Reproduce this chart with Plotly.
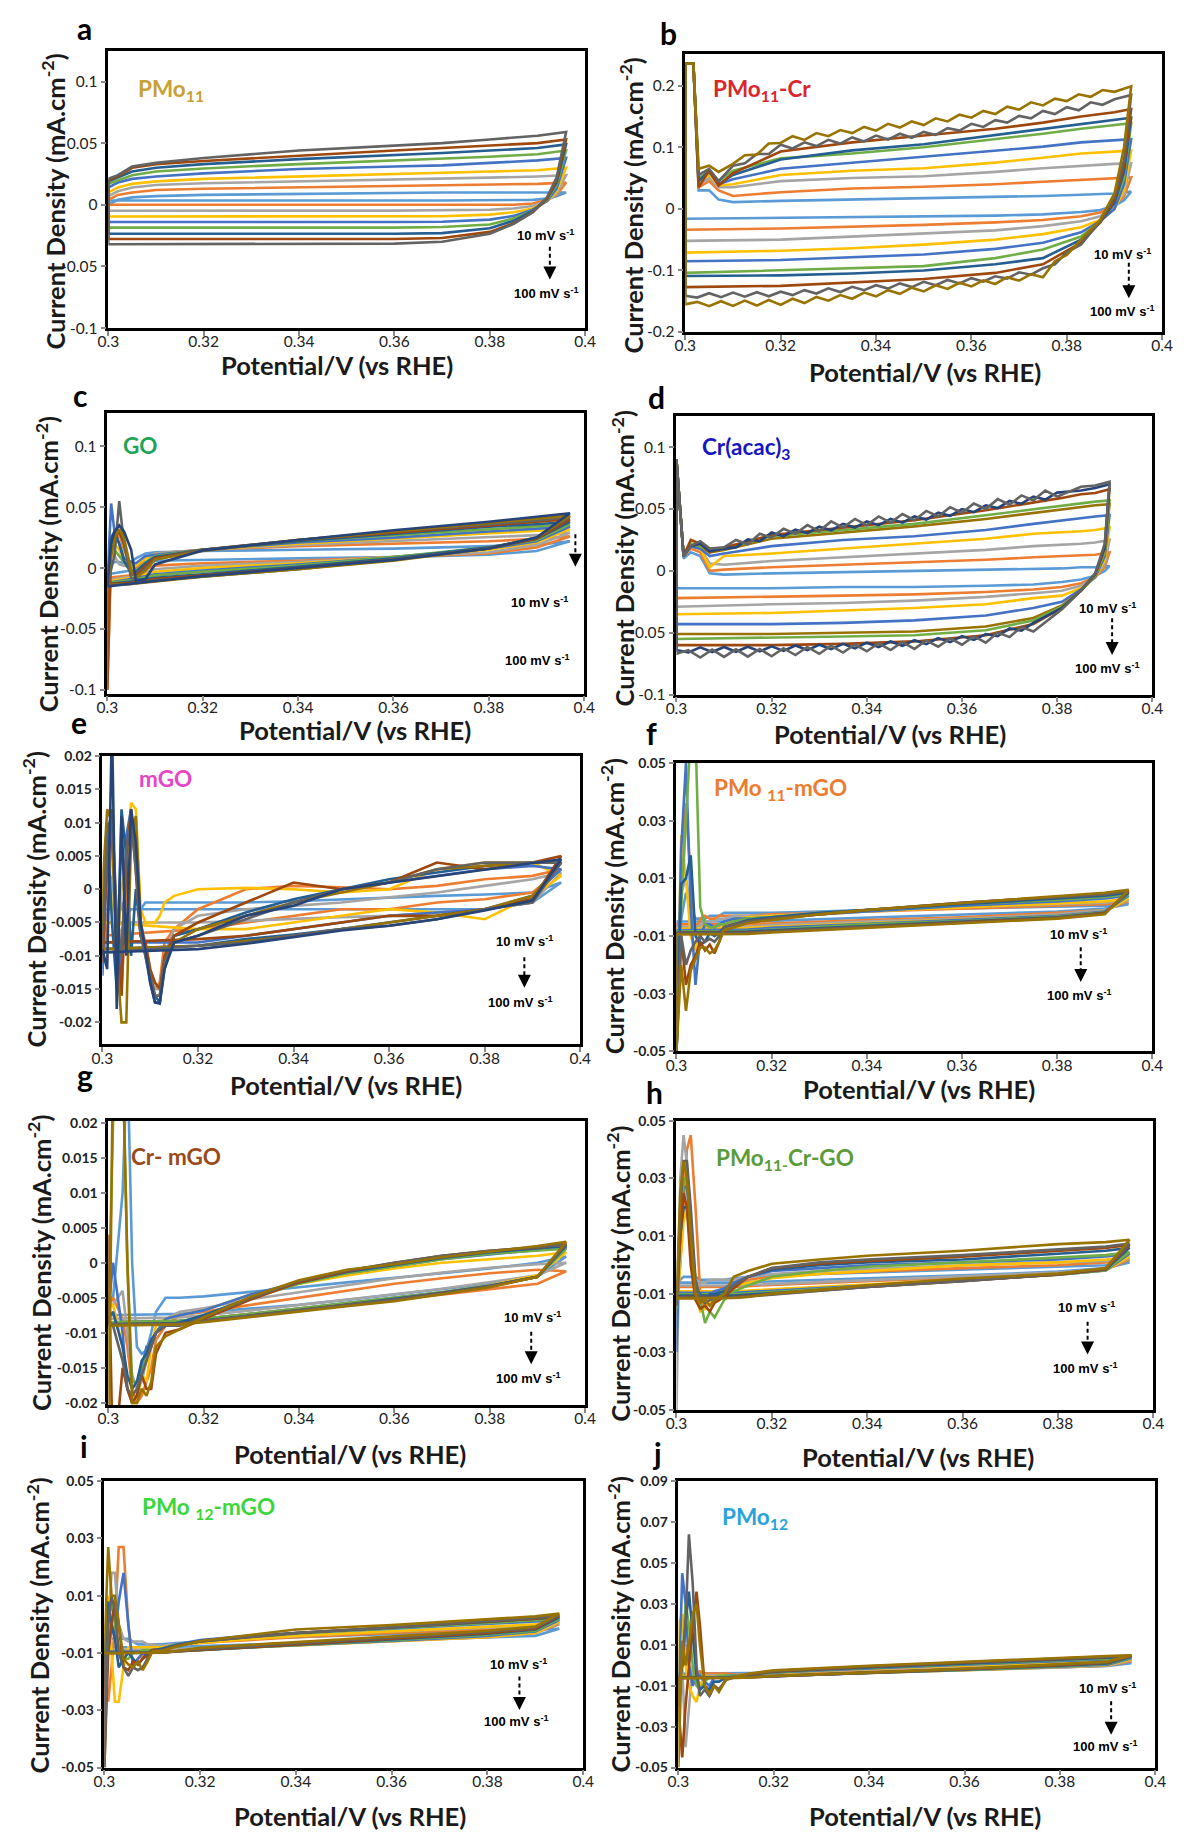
import plotly.graph_objects as go

# ------------------------------------------------------------------ data
X_TICKS = [0.3, 0.32, 0.34, 0.36, 0.38, 0.4]
X_TICK_TEXT = ['0.3', '0.32', '0.34', '0.36', '0.38', '0.4']
Y_TICKS_01 = [-0.1, -0.05, 0, 0.05, 0.1]
Y_TEXT_01 = ['-0.1', '-0.05', '0', '0.05', '0.1']
Y_TICKS_02 = [-0.2, -0.1, 0, 0.1, 0.2]
Y_TEXT_02 = ['-0.2', '-0.1', '0', '0.1', '0.2']
Y_TICKS_002 = [-0.02, -0.015, -0.01, -0.005, 0, 0.005, 0.01, 0.015, 0.02]
Y_TEXT_002 = ['-0.02', '-0.015', '-0.01', '-0.005', '0', '0.005', '0.01', '0.015', '0.02']
Y_TICKS_005 = [-0.05, -0.03, -0.01, 0.01, 0.03, 0.05]
Y_TEXT_005 = ['-0.05', '-0.03', '-0.01', '0.01', '0.03', '0.05']
Y_TICKS_009 = [-0.05, -0.03, -0.01, 0.01, 0.03, 0.05, 0.07, 0.09]
Y_TEXT_009 = ['-0.05', '-0.03', '-0.01', '0.01', '0.03', '0.05', '0.07', '0.09']

LB, OR, GR, YE, BL, GN = '#5B9BD5', '#ED7D31', '#A5A5A5', '#FFC000', '#4472C4', '#70AD47'
DB, BR, DG, OL, NV = '#255E91', '#9E480E', '#636363', '#997300', '#264478'

# ---- a : PMo11
A_EU = [0.3, 0.302, 0.305, 0.31, 0.32, 0.34, 0.36, 0.37, 0.38, 0.39, 0.396]
A_UP = [
    [0.000, 0.004, 0.006, 0.007, 0.008, 0.009, 0.0095, 0.010, 0.010, 0.010, 0.010],
    [0.004, 0.008, 0.010, 0.012, 0.013, 0.014, 0.015, 0.016, 0.016, 0.017, 0.018],
    [0.007, 0.011, 0.014, 0.016, 0.0175, 0.019, 0.020, 0.021, 0.022, 0.023, 0.024],
    [0.010, 0.014, 0.017, 0.019, 0.021, 0.023, 0.025, 0.026, 0.027, 0.028, 0.030],
    [0.014, 0.018, 0.021, 0.023, 0.0255, 0.029, 0.031, 0.032, 0.034, 0.036, 0.038],
    [0.017, 0.020, 0.024, 0.027, 0.0295, 0.033, 0.036, 0.037, 0.039, 0.041, 0.044],
    [0.019, 0.022, 0.027, 0.030, 0.033, 0.037, 0.040, 0.042, 0.044, 0.046, 0.049],
    [0.020, 0.023, 0.030, 0.033, 0.0355, 0.040, 0.044, 0.046, 0.048, 0.050, 0.053],
    [0.021, 0.024, 0.031, 0.034, 0.038, 0.044, 0.048, 0.050, 0.053, 0.056, 0.059],
]
A_ED = [0.3, 0.36, 0.37, 0.38, 0.385, 0.389, 0.392, 0.394, 0.396]
A_DN = [
    [0.0035, 0.0035, 0.0035, 0.0036, 0.0038, 0.004, 0.005, 0.007, 0.010],
    [0.000, 0.000, 0.000, 0.000, 0.000, 0.001, 0.004, 0.008, 0.018],
    [-0.0048, -0.0047, -0.0046, -0.004, -0.003, -0.001, 0.003, 0.009, 0.024],
    [-0.0095, -0.0094, -0.0093, -0.008, -0.006, -0.003, 0.003, 0.011, 0.030],
    [-0.014, -0.014, -0.0138, -0.012, -0.009, -0.004, 0.003, 0.013, 0.038],
    [-0.0185, -0.0185, -0.018, -0.016, -0.011, -0.005, 0.004, 0.016, 0.044],
    [-0.0235, -0.0235, -0.023, -0.019, -0.013, -0.005, 0.005, 0.018, 0.049],
    [-0.0278, -0.0278, -0.027, -0.022, -0.015, -0.006, 0.005, 0.020, 0.053],
    [-0.032, -0.0315, -0.030, -0.0235, -0.0155, -0.006, 0.006, 0.022, 0.059],
]
A_COLORS = [LB, OR, GR, YE, BL, GN, DB, BR, DG]

# ---- b : PMo11-Cr
B_EU = [0.3, 0.3017, 0.3028, 0.305, 0.307, 0.31, 0.32, 0.335, 0.35, 0.365, 0.375, 0.383, 0.39, 0.3935]
B_UP = [
    [0.236, 0.236, 0.030, 0.030, 0.015, 0.011, 0.013, 0.015, 0.017, 0.019, 0.021, 0.023, 0.025, 0.028],
    [0.236, 0.236, 0.035, 0.045, 0.030, 0.021, 0.027, 0.033, 0.036, 0.040, 0.044, 0.047, 0.049, 0.051],
    [0.236, 0.236, 0.040, 0.050, 0.035, 0.035, 0.045, 0.050, 0.053, 0.060, 0.066, 0.070, 0.073, 0.074],
    [0.236, 0.236, 0.045, 0.055, 0.038, 0.040, 0.055, 0.062, 0.066, 0.075, 0.083, 0.090, 0.093, 0.095],
    [0.236, 0.236, 0.045, 0.060, 0.040, 0.048, 0.065, 0.075, 0.084, 0.094, 0.101, 0.108, 0.111, 0.113],
    [0.236, 0.236, 0.050, 0.060, 0.045, 0.062, 0.082, 0.090, 0.100, 0.113, 0.122, 0.130, 0.136, 0.139],
    [0.236, 0.236, 0.045, 0.062, 0.040, 0.055, 0.080, 0.095, 0.105, 0.120, 0.130, 0.138, 0.145, 0.148],
    [0.236, 0.236, 0.035, 0.062, 0.038, 0.058, 0.093, 0.108, 0.119, 0.130, 0.140, 0.150, 0.157, 0.162],
]
B_ED = [0.3, 0.32, 0.335, 0.35, 0.365, 0.375, 0.383, 0.387, 0.39, 0.392, 0.3935]
B_DN = [
    [-0.016, -0.015, -0.013, -0.012, -0.011, -0.009, -0.005, -0.002, 0.005, 0.014, 0.028],
    [-0.034, -0.032, -0.029, -0.026, -0.022, -0.018, -0.012, -0.006, 0.006, 0.020, 0.051],
    [-0.052, -0.050, -0.046, -0.040, -0.035, -0.028, -0.020, -0.012, 0.004, 0.025, 0.074],
    [-0.071, -0.068, -0.064, -0.058, -0.050, -0.041, -0.030, -0.018, 0.000, 0.030, 0.095],
    [-0.085, -0.083, -0.078, -0.074, -0.065, -0.055, -0.038, -0.020, 0.000, 0.040, 0.113],
    [-0.104, -0.100, -0.096, -0.093, -0.080, -0.066, -0.045, -0.020, 0.010, 0.050, 0.139],
    [-0.109, -0.108, -0.105, -0.100, -0.090, -0.080, -0.050, -0.022, 0.010, 0.060, 0.148],
    [-0.127, -0.125, -0.120, -0.114, -0.104, -0.090, -0.055, -0.022, 0.015, 0.070, 0.162],
]
B_COLORS = [LB, OR, GR, YE, BL, GN, DB, BR]
B_EUW = [0.3, 0.3017, 0.3028, 0.305, 0.307, 0.31, 0.3125, 0.315, 0.3175, 0.32, 0.3225, 0.325, 0.3275,
         0.33, 0.3325, 0.335, 0.3375, 0.34, 0.3425, 0.345, 0.3475, 0.35, 0.3525, 0.355, 0.3575, 0.36,
         0.3625, 0.365, 0.3675, 0.37, 0.3725, 0.375, 0.3775, 0.38, 0.3825, 0.385, 0.3875, 0.39, 0.3935]
B_UPW = [
    [0.236, 0.236, 0.055, 0.065, 0.045, 0.070, 0.074, 0.089, 0.089, 0.104, 0.098, 0.108, 0.102, 0.112,
     0.106, 0.116, 0.1095, 0.119, 0.1125, 0.122, 0.1155, 0.125, 0.120, 0.131, 0.127, 0.138, 0.133, 0.144,
     0.140, 0.151, 0.147, 0.159, 0.154, 0.165, 0.160, 0.173, 0.169, 0.178, 0.185],
    [0.236, 0.236, 0.065, 0.070, 0.060, 0.073, 0.087, 0.088, 0.106, 0.107, 0.118, 0.112, 0.123, 0.118,
     0.128, 0.123, 0.133, 0.127, 0.138, 0.132, 0.142, 0.136, 0.147, 0.142, 0.153, 0.148, 0.159, 0.154,
     0.166, 0.161, 0.173, 0.168, 0.179, 0.175, 0.186, 0.182, 0.193, 0.190, 0.199],
]
B_EDW = [0.3, 0.3025, 0.305, 0.3075, 0.31, 0.3125, 0.315, 0.3175, 0.32, 0.3225, 0.325, 0.3275, 0.33,
         0.3325, 0.335, 0.3375, 0.34, 0.3425, 0.345, 0.3475, 0.35, 0.3525, 0.355, 0.3575, 0.36, 0.3625,
         0.365, 0.3675, 0.37, 0.3725, 0.375, 0.3775, 0.38, 0.383, 0.387, 0.39, 0.392, 0.3935]
B_DNW = [
    [-0.141, -0.144, -0.137, -0.1435, -0.136, -0.1426, -0.1353, -0.142, -0.1345, -0.140, -0.132, -0.1375,
     -0.129, -0.135, -0.1265, -0.132, -0.124, -0.1295, -0.121, -0.127, -0.1185, -0.124, -0.1155, -0.121,
     -0.1125, -0.118, -0.1095, -0.1133, -0.103, -0.107, -0.0965, -0.090, -0.0705, -0.058, -0.020, 0.020,
     0.080, 0.185],
    [-0.155, -0.151, -0.158, -0.150, -0.1575, -0.149, -0.157, -0.148, -0.156, -0.146, -0.153, -0.143,
     -0.149, -0.140, -0.146, -0.136, -0.142, -0.132, -0.138, -0.128, -0.134, -0.124, -0.130, -0.120,
     -0.126, -0.116, -0.122, -0.111, -0.1165, -0.106, -0.111, -0.085, -0.075, -0.050, -0.018, 0.025,
     0.100, 0.199],
]
B_COLORSW = [DG, OL]

# ---- c : GO
C_EU = [0.3, 0.3008, 0.3015, 0.3025, 0.3035, 0.305, 0.306, 0.308, 0.31, 0.32, 0.34, 0.36, 0.38, 0.39, 0.397]
C_UP = [
    [-0.005, 0.003, 0.005, 0.005, 0.004, 0.005, 0.008, 0.012, 0.013, 0.014, 0.015, 0.016, 0.018, 0.019, 0.022],
    [-0.100, 0.010, 0.020, 0.028, 0.015, 0.002, 0.000, 0.008, 0.012, 0.015, 0.018, 0.020, 0.022, 0.024, 0.026],
    [-0.010, 0.020, 0.010, 0.003, 0.002, 0.001, 0.003, 0.009, 0.012, 0.015, 0.019, 0.022, 0.025, 0.027, 0.029],
    [-0.011, 0.010, 0.020, 0.015, 0.005, 0.000, 0.002, 0.008, 0.011, 0.015, 0.020, 0.024, 0.028, 0.030, 0.032],
    [-0.012, 0.053, 0.030, 0.020, 0.008, 0.005, 0.004, 0.010, 0.011, 0.015, 0.021, 0.025, 0.030, 0.032, 0.034],
    [-0.012, 0.020, 0.015, 0.010, 0.004, -0.003, -0.002, 0.005, 0.010, 0.015, 0.022, 0.027, 0.032, 0.034, 0.036],
    [-0.013, 0.025, 0.030, 0.020, 0.006, -0.004, -0.003, 0.004, 0.009, 0.015, 0.022, 0.028, 0.034, 0.036, 0.038],
    [-0.100, 0.015, 0.025, 0.030, 0.020, -0.005, -0.006, 0.002, 0.008, 0.015, 0.023, 0.029, 0.035, 0.038, 0.040],
    [-0.014, 0.000, 0.010, 0.055, 0.020, -0.008, -0.009, 0.000, 0.007, 0.015, 0.023, 0.030, 0.036, 0.039, 0.042],
    [-0.014, 0.010, 0.025, 0.032, 0.025, -0.002, -0.008, -0.002, 0.007, 0.014, 0.023, 0.030, 0.037, 0.040, 0.043],
    [-0.015, 0.020, 0.030, 0.035, 0.030, 0.015, -0.010, -0.009, 0.003, 0.0145, 0.023, 0.031, 0.038, 0.042, 0.045],
]
C_ED = [0.3, 0.305, 0.31, 0.32, 0.34, 0.36, 0.38, 0.39, 0.397]
C_DN = [
    [-0.005, -0.002, 0.006, 0.007, 0.008, 0.009, 0.011, 0.014, 0.022],
    [-0.008, -0.006, 0.002, 0.004, 0.006, 0.009, 0.012, 0.017, 0.026],
    [-0.010, -0.007, -0.001, 0.002, 0.005, 0.009, 0.013, 0.019, 0.029],
    [-0.011, -0.008, -0.003, 0.000, 0.004, 0.009, 0.015, 0.021, 0.032],
    [-0.012, -0.009, -0.005, -0.002, 0.003, 0.009, 0.016, 0.022, 0.034],
    [-0.012, -0.010, -0.006, -0.003, 0.002, 0.009, 0.017, 0.023, 0.036],
    [-0.013, -0.011, -0.008, -0.005, 0.001, 0.008, 0.017, 0.024, 0.038],
    [-0.013, -0.012, -0.009, -0.006, 0.000, 0.007, 0.016, 0.024, 0.040],
    [-0.014, -0.013, -0.010, -0.007, -0.001, 0.007, 0.016, 0.025, 0.042],
    [-0.014, -0.013, -0.011, -0.007, -0.001, 0.006, 0.016, 0.025, 0.043],
    [-0.015, -0.013, -0.0106, -0.0066, 0.000, 0.0066, 0.016, 0.025, 0.045],
]
C_COLORS = [LB, OR, GR, YE, BL, GN, DB, BR, DG, OL, NV]

# ---- d : Cr(acac)3
D_EU = [0.3, 0.3015, 0.303, 0.305, 0.307, 0.31, 0.32, 0.335, 0.35, 0.365, 0.375, 0.381, 0.385, 0.388, 0.391]
D_UP = [
    [0.09, 0.010, 0.015, 0.012, -0.002, -0.003, -0.002, -0.001, 0.000, 0.001, 0.002, 0.002, 0.003, 0.003, 0.004],
    [0.09, 0.012, 0.018, 0.015, 0.000, 0.001, 0.003, 0.005, 0.007, 0.009, 0.011, 0.012, 0.013, 0.013, 0.015],
    [0.09, 0.012, 0.020, 0.018, 0.006, 0.005, 0.008, 0.011, 0.014, 0.017, 0.020, 0.021, 0.022, 0.023, 0.025],
    [0.09, 0.012, 0.020, 0.018, 0.003, 0.012, 0.014, 0.018, 0.022, 0.026, 0.030, 0.031, 0.032, 0.033, 0.035],
    [0.09, 0.012, 0.020, 0.018, 0.012, 0.014, 0.020, 0.025, 0.028, 0.033, 0.038, 0.041, 0.043, 0.044, 0.045],
    [0.09, 0.012, 0.022, 0.020, 0.015, 0.017, 0.026, 0.031, 0.036, 0.042, 0.047, 0.050, 0.052, 0.053, 0.054],
    [0.09, 0.012, 0.022, 0.020, 0.016, 0.018, 0.028, 0.033, 0.038, 0.045, 0.050, 0.053, 0.055, 0.056, 0.057],
    [0.09, 0.012, 0.025, 0.022, 0.015, 0.019, 0.029, 0.035, 0.041, 0.049, 0.055, 0.059, 0.062, 0.063, 0.066],
]
D_ED = [0.3, 0.32, 0.335, 0.35, 0.365, 0.375, 0.381, 0.385, 0.388, 0.39, 0.391]
D_DN = [
    [-0.014, -0.014, -0.013, -0.013, -0.012, -0.011, -0.009, -0.007, -0.004, 0.000, 0.004],
    [-0.022, -0.021, -0.020, -0.019, -0.017, -0.015, -0.013, -0.010, -0.005, 0.003, 0.015],
    [-0.029, -0.027, -0.026, -0.024, -0.021, -0.018, -0.016, -0.012, -0.005, 0.006, 0.025],
    [-0.035, -0.034, -0.032, -0.030, -0.027, -0.022, -0.020, -0.014, -0.005, 0.009, 0.035],
    [-0.043, -0.043, -0.042, -0.040, -0.036, -0.030, -0.025, -0.015, -0.005, 0.012, 0.045],
    [-0.051, -0.051, -0.050, -0.049, -0.045, -0.038, -0.028, -0.016, -0.004, 0.015, 0.054],
    [-0.055, -0.054, -0.053, -0.052, -0.048, -0.040, -0.029, -0.016, -0.004, 0.015, 0.057],
    [-0.060, -0.060, -0.059, -0.057, -0.052, -0.043, -0.030, -0.016, -0.003, 0.018, 0.066],
]
D_COLORS = [LB, OR, GR, YE, BL, OL, GN, BR]
D_EUW = [0.3, 0.3015, 0.303, 0.305, 0.307, 0.31, 0.3125, 0.315, 0.3175, 0.32, 0.3225, 0.325, 0.3275,
         0.33, 0.3325, 0.335, 0.3375, 0.34, 0.3425, 0.345, 0.3475, 0.35, 0.3525, 0.355, 0.3575, 0.36,
         0.3625, 0.365, 0.3675, 0.37, 0.3725, 0.375, 0.3775, 0.38, 0.385, 0.388, 0.391]
D_UPW = [
    [0.09, 0.012, 0.020, 0.022, 0.016, 0.018, 0.019, 0.0255, 0.024, 0.031, 0.028, 0.0333, 0.0305, 0.0357,
     0.0328, 0.038, 0.035, 0.040, 0.037, 0.042, 0.039, 0.044, 0.0415, 0.047, 0.0445, 0.050, 0.0475, 0.053,
     0.0508, 0.0565, 0.0543, 0.060, 0.0577, 0.0633, 0.065, 0.067, 0.070],
    [0.09, 0.012, 0.020, 0.024, 0.018, 0.019, 0.025, 0.0215, 0.030, 0.027, 0.034, 0.030, 0.037, 0.032,
     0.040, 0.035, 0.042, 0.037, 0.044, 0.039, 0.046, 0.041, 0.0485, 0.044, 0.0515, 0.047, 0.0545, 0.050,
     0.058, 0.0535, 0.061, 0.057, 0.065, 0.060, 0.068, 0.069, 0.072],
]
D_EDW = [0.3, 0.3025, 0.305, 0.3075, 0.31, 0.3125, 0.315, 0.3175, 0.32, 0.3225, 0.325, 0.3275, 0.33,
         0.3325, 0.335, 0.3375, 0.34, 0.3425, 0.345, 0.3475, 0.35, 0.3525, 0.355, 0.3575, 0.36, 0.3625,
         0.365, 0.3675, 0.37, 0.3725, 0.375, 0.381, 0.385, 0.388, 0.39, 0.391]
D_DNW = [
    [-0.064, -0.0659, -0.0618, -0.0656, -0.0615, -0.0654, -0.0613, -0.0651, -0.061, -0.0647, -0.0603,
     -0.064, -0.0597, -0.0633, -0.059, -0.0625, -0.058, -0.0615, -0.057, -0.0605, -0.056, -0.0592, -0.0543,
     -0.0575, -0.0527, -0.0558, -0.051, -0.0528, -0.0465, -0.0483, -0.042, -0.030, -0.016, -0.002, 0.020,
     0.070],
    [-0.067, -0.064, -0.070, -0.0636, -0.0695, -0.0634, -0.0693, -0.0631, -0.069, -0.0625, -0.068, -0.0615,
     -0.067, -0.0605, -0.066, -0.0595, -0.065, -0.0585, -0.064, -0.0575, -0.063, -0.0562, -0.0613, -0.0545,
     -0.0597, -0.0528, -0.058, -0.0498, -0.0535, -0.0453, -0.049, -0.031, -0.016, -0.002, 0.022, 0.072],
]
D_COLORSW = [NV, DG]

# ---- e : mGO
E_EU = [0.3, 0.301, 0.302, 0.303, 0.304, 0.305, 0.306, 0.307, 0.308, 0.309, 0.31, 0.311, 0.312, 0.313,
        0.315, 0.32, 0.33, 0.34, 0.35, 0.36, 0.37, 0.38, 0.39, 0.396]
E_UP = [
    [-0.012, -0.004, 0.002, -0.006, -0.002, -0.004, -0.003, -0.003, -0.003, -0.002, -0.002, -0.002, -0.002, -0.002,
     -0.002, -0.002, -0.002, -0.0018, -0.0015, -0.0012, -0.001, -0.0008, -0.0005, 0.001],
    [-0.010, -0.006, 0.011, -0.005, -0.016, 0.000, 0.012, 0.005, -0.005, -0.010, -0.013, -0.015, -0.014, -0.008,
     -0.006, -0.003, 0.000, 0.0005, 0.0003, 0.000, 0.0005, 0.0015, 0.002, 0.003],
    [-0.008, 0.003, 0.006, -0.010, -0.006, -0.005, -0.005, -0.005, -0.005, -0.008, -0.012, -0.015, -0.015, -0.010,
     -0.006, -0.004, -0.003, -0.0025, -0.002, -0.0012, -0.0005, 0.0005, 0.0015, 0.0025],
    [0.000, 0.010, -0.003, -0.010, 0.000, 0.004, 0.013, 0.012, -0.003, -0.005, -0.005, -0.005, -0.004, -0.002,
     -0.001, 0.000, 0.0002, 0.000, -0.0005, 0.000, 0.003, 0.004, 0.004, 0.002],
    [-0.013, 0.005, 0.010, -0.006, -0.012, 0.008, 0.012, 0.004, -0.006, -0.010, -0.014, -0.017, -0.017, -0.012,
     -0.007, -0.006, -0.004, -0.002, 0.000, 0.001, 0.002, 0.003, 0.0035, 0.003],
    [-0.005, 0.010, -0.005, -0.015, 0.012, 0.005, -0.010, 0.000, -0.007, -0.009, -0.013, -0.016, -0.017, -0.011,
     -0.007, -0.006, -0.0035, -0.0015, 0.000, 0.0015, 0.0025, 0.0035, 0.004, 0.004],
    [-0.011, 0.005, 0.008, -0.006, -0.016, 0.005, 0.012, 0.002, -0.007, -0.008, -0.012, -0.014, -0.015, -0.010,
     -0.007, -0.005, -0.002, 0.001, 0.000, 0.001, 0.004, 0.003, 0.004, 0.005],
    [0.000, 0.012, 0.010, -0.010, -0.020, -0.020, 0.008, 0.011, -0.005, -0.009, -0.013, -0.016, -0.016, -0.011,
     -0.008, -0.006, -0.004, -0.002, -0.0005, 0.001, 0.003, 0.0035, 0.004, 0.004],
    [-0.009, 0.008, 0.012, -0.004, -0.010, 0.006, 0.010, 0.003, -0.007, -0.010, -0.013, -0.016, -0.016, -0.011,
     -0.008, -0.007, -0.0045, -0.002, 0.000, 0.001, 0.003, 0.004, 0.004, 0.004],
    [-0.009, -0.012, 0.025, -0.018, 0.011, -0.010, 0.012, 0.007, -0.005, -0.009, -0.014, -0.017, -0.0172, -0.012,
     -0.008, -0.007, -0.004, -0.0025, 0.000, 0.001, 0.002, 0.003, 0.004, 0.0045],
]
E_ED = [0.3, 0.32, 0.33, 0.34, 0.35, 0.36, 0.37, 0.38, 0.39, 0.396]
E_DN = [
    [-0.003, -0.003, -0.003, -0.003, -0.003, -0.003, -0.003, -0.003, -0.002, 0.001],
    [-0.007, -0.006, -0.005, -0.004, -0.003, -0.003, -0.002, -0.0015, -0.0005, 0.003],
    [-0.005, -0.005, -0.0048, -0.0045, -0.0042, -0.004, -0.0035, -0.003, -0.002, 0.0025],
    [-0.005, -0.006, -0.006, -0.005, -0.004, -0.003, -0.0035, -0.0045, -0.001, 0.002],
    [-0.008, -0.008, -0.007, -0.006, -0.005, -0.004, -0.0035, -0.003, -0.001, 0.003],
    [-0.009, -0.0085, -0.0075, -0.0068, -0.006, -0.005, -0.004, -0.003, -0.0015, 0.004],
    [-0.008, -0.0075, -0.007, -0.006, -0.005, -0.004, -0.004, -0.003, -0.0015, 0.005],
    [-0.009, -0.0085, -0.0078, -0.007, -0.006, -0.005, -0.004, -0.003, -0.001, 0.004],
    [-0.0095, -0.0085, -0.008, -0.007, -0.006, -0.0055, -0.0045, -0.003, -0.002, 0.004],
    [-0.0095, -0.009, -0.0082, -0.0072, -0.0062, -0.0055, -0.0045, -0.0032, -0.0017, 0.0045],
]
E_COLORS = [LB, OR, GR, YE, BL, DB, BR, OL, DG, NV]

# ---- f : PMo11-mGO
F_EU = [0.3, 0.301, 0.302, 0.303, 0.304, 0.305, 0.306, 0.307, 0.308, 0.309, 0.31, 0.312,
        0.315, 0.32, 0.33, 0.34, 0.36, 0.38, 0.39, 0.395]
F_UP = [
    [-0.05, -0.004, 0.005, 0.000, -0.004, -0.004, -0.004, -0.003, -0.003, -0.003, -0.002, -0.002,
     -0.002, -0.002, -0.0015, -0.001, -0.0005, 0.000, 0.0005, 0.001],
    [-0.05, 0.010, 0.036, 0.010, -0.010, -0.004, -0.003, -0.004, -0.004, -0.003, -0.003, -0.003,
     -0.003, -0.0025, -0.002, -0.0015, -0.0005, 0.0005, 0.001, 0.002],
    [-0.05, 0.005, 0.010, 0.000, -0.008, -0.006, -0.005, -0.005, -0.005, -0.004, -0.004, -0.003,
     -0.003, -0.003, -0.002, -0.0015, 0.000, 0.001, 0.0015, 0.0025],
    [-0.05, 0.025, 0.010, -0.010, -0.015, -0.008, -0.006, -0.008, -0.010, -0.008, -0.006, -0.004,
     -0.0035, -0.003, -0.0025, -0.0015, 0.000, 0.0015, 0.002, 0.003],
    [-0.05, 0.020, 0.050, 0.000, -0.027, -0.010, -0.006, -0.006, -0.007, -0.006, -0.005, -0.004,
     -0.004, -0.0035, -0.0025, -0.0015, 0.0005, 0.002, 0.003, 0.004],
    [-0.05, 0.000, 0.030, 0.060, 0.060, 0.000, -0.006, -0.007, -0.007, -0.006, -0.006, -0.005,
     -0.004, -0.0035, -0.002, -0.001, 0.001, 0.0025, 0.0035, 0.0045],
    [-0.05, 0.008, 0.010, 0.018, -0.010, -0.013, -0.012, -0.009, -0.010, -0.009, -0.007, -0.006,
     -0.0045, -0.0035, -0.002, -0.001, 0.001, 0.003, 0.004, 0.005],
    [-0.05, -0.010, -0.027, -0.020, -0.017, -0.012, -0.015, -0.013, -0.016, -0.012, -0.007, -0.006,
     -0.005, -0.004, -0.0025, -0.001, 0.0015, 0.0035, 0.0045, 0.0055],
    [-0.05, -0.010, -0.020, -0.015, -0.012, -0.010, -0.012, -0.011, -0.012, -0.010, -0.007, -0.006,
     -0.005, -0.004, -0.0025, -0.001, 0.0015, 0.0035, 0.0045, 0.0055],
    [-0.05, -0.020, -0.036, -0.022, -0.018, -0.014, -0.014, -0.016, -0.015, -0.012, -0.008, -0.007,
     -0.0055, -0.0045, -0.0025, -0.001, 0.0015, 0.004, 0.005, 0.006],
]
F_ED = [0.3, 0.315, 0.32, 0.33, 0.34, 0.36, 0.38, 0.39, 0.395]
F_DN = [
    [-0.005, -0.005, -0.0045, -0.004, -0.0035, -0.0025, -0.0015, -0.0005, 0.001],
    [-0.006, -0.006, -0.0055, -0.005, -0.0045, -0.0035, -0.002, -0.001, 0.002],
    [-0.007, -0.0068, -0.0062, -0.0055, -0.005, -0.004, -0.0025, -0.001, 0.0025],
    [-0.0075, -0.0072, -0.0068, -0.006, -0.0055, -0.0042, -0.003, -0.0015, 0.003],
    [-0.008, -0.0078, -0.0072, -0.0065, -0.0058, -0.0045, -0.003, -0.0015, 0.004],
    [-0.0085, -0.0082, -0.0078, -0.007, -0.006, -0.0048, -0.0033, -0.0018, 0.0045],
    [-0.0088, -0.0085, -0.008, -0.0072, -0.0063, -0.005, -0.0035, -0.002, 0.005],
    [-0.009, -0.0088, -0.0083, -0.0075, -0.0067, -0.0052, -0.0037, -0.002, 0.0055],
    [-0.0092, -0.009, -0.0085, -0.0077, -0.0068, -0.0053, -0.0038, -0.0022, 0.0055],
    [-0.0095, -0.0093, -0.0088, -0.008, -0.007, -0.0055, -0.004, -0.0025, 0.006],
]
F_COLORS = [LB, OR, GR, YE, BL, GN, DB, BR, DG, OL]

# ---- g : Cr-mGO
G_EU = [0.3, 0.301, 0.303, 0.304, 0.305, 0.306, 0.307, 0.308, 0.309, 0.31, 0.312,
        0.315, 0.32, 0.33, 0.34, 0.35, 0.36, 0.37, 0.38, 0.39, 0.396]
G_UP = [
    [-0.005, -0.005, 0.010, 0.030, 0.000, -0.012, -0.013, -0.0125, -0.010, -0.007, -0.005,
     -0.005, -0.0048, -0.0042, -0.0035, -0.0028, -0.0022, -0.0015, -0.0008, 0.000, 0.0009],
    [-0.0065, -0.005, -0.008, -0.012, -0.018, -0.020, -0.019, -0.017, -0.015, -0.011, -0.009,
     -0.0075, -0.007, -0.006, -0.005, -0.004, -0.003, -0.0022, -0.0015, -0.001, -0.0012],
    [-0.006, -0.006, -0.004, -0.010, -0.016, -0.018, -0.017, -0.014, -0.012, -0.010, -0.008,
     -0.007, -0.0065, -0.0052, -0.0042, -0.0032, -0.0022, -0.0014, -0.0007, -0.0002, 0.000],
    [-0.0065, -0.006, -0.012, -0.018, -0.020, -0.020, -0.016, -0.017, -0.012, -0.009, -0.008,
     -0.0075, -0.0068, -0.0045, -0.003, -0.0018, -0.0008, 0.000, 0.0005, 0.001, 0.0015],
    [-0.007, 0.000, -0.010, -0.018, -0.020, -0.019, -0.015, -0.012, -0.012, -0.010, -0.008,
     -0.0075, -0.0068, -0.0045, -0.0028, -0.0015, -0.0005, 0.0005, 0.0012, 0.0018, 0.0022],
    [-0.008, 0.020, 0.030, 0.000, -0.017, -0.017, -0.016, -0.013, -0.011, -0.010, -0.009,
     -0.0085, -0.0075, -0.005, -0.003, -0.0015, -0.0005, 0.0005, 0.0013, 0.0018, 0.002],
    [-0.008, -0.007, -0.012, -0.016, -0.018, -0.017, -0.014, -0.013, -0.011, -0.010, -0.009,
     -0.0085, -0.0075, -0.005, -0.0028, -0.0013, -0.0003, 0.0007, 0.0015, 0.002, 0.0024],
    [0.004, -0.030, -0.015, -0.018, -0.020, -0.019, -0.016, -0.018, -0.018, -0.013, -0.010,
     -0.0095, -0.008, -0.0052, -0.0028, -0.0012, 0.000, 0.001, 0.0017, 0.0022, 0.0027],
    [-0.009, -0.009, -0.014, -0.018, -0.019, -0.018, -0.016, -0.014, -0.012, -0.010, -0.009,
     -0.009, -0.0078, -0.005, -0.0026, -0.0011, 0.000, 0.001, 0.0017, 0.0022, 0.0026],
    [-0.030, 0.030, 0.030, 0.000, -0.020, -0.020, -0.018, -0.019, -0.017, -0.012, -0.0105,
     -0.0095, -0.0078, -0.0048, -0.0025, -0.001, -0.0002, 0.0008, 0.0016, 0.0024, 0.003],
]
G_ED = [0.3, 0.315, 0.32, 0.33, 0.34, 0.35, 0.36, 0.37, 0.38, 0.39, 0.396]
G_DN = [
    [-0.0075, -0.0073, -0.007, -0.0065, -0.006, -0.0053, -0.0046, -0.0038, -0.003, -0.002, 0.0009],
    [-0.0085, -0.0083, -0.008, -0.0073, -0.0066, -0.006, -0.0053, -0.0045, -0.0038, -0.003, -0.0012],
    [-0.008, -0.0078, -0.0075, -0.0068, -0.006, -0.0053, -0.0045, -0.0037, -0.0028, -0.0018, 0.000],
    [-0.0085, -0.0083, -0.008, -0.0073, -0.0066, -0.0058, -0.005, -0.0042, -0.0032, -0.0018, 0.0015],
    [-0.0085, -0.0083, -0.008, -0.0073, -0.0066, -0.0058, -0.005, -0.0042, -0.0033, -0.002, 0.0022],
    [-0.0085, -0.0083, -0.008, -0.0073, -0.0066, -0.0058, -0.005, -0.0042, -0.0033, -0.002, 0.002],
    [-0.0088, -0.0086, -0.0082, -0.0075, -0.0068, -0.006, -0.0052, -0.0043, -0.0033, -0.002, 0.0024],
    [-0.0088, -0.0087, -0.0083, -0.0076, -0.0068, -0.006, -0.0053, -0.0044, -0.0034, -0.002, 0.0027],
    [-0.0088, -0.0087, -0.0083, -0.0076, -0.0068, -0.006, -0.0053, -0.0044, -0.0034, -0.002, 0.0026],
    [-0.009, -0.0088, -0.0085, -0.0078, -0.007, -0.0062, -0.0055, -0.0045, -0.0035, -0.002, 0.003],
]
G_COLORS = [LB, OR, GR, YE, BL, GN, DB, BR, DG, OL]

# ---- h : PMo11-Cr-GO
H_EU = [0.3, 0.3008, 0.3015, 0.3022, 0.303, 0.304, 0.305, 0.306, 0.307, 0.308, 0.31,
        0.312, 0.315, 0.32, 0.33, 0.34, 0.36, 0.38, 0.39, 0.395]
H_UP = [
    [-0.010, -0.005, -0.004, -0.004, -0.004, -0.004, -0.005, -0.005, -0.005, -0.005, -0.005,
     -0.0045, -0.004, -0.0035, -0.003, -0.0025, -0.0015, -0.0005, 0.000, 0.001],
    [-0.015, 0.000, 0.020, 0.040, 0.045, 0.020, -0.010, -0.015, -0.012, -0.010, -0.008,
     -0.006, -0.005, -0.004, -0.003, -0.0022, -0.001, 0.000, 0.001, 0.002],
    [-0.050, 0.030, 0.045, 0.035, 0.010, -0.005, -0.006, -0.006, -0.005, -0.005, -0.005,
     -0.005, -0.004, -0.003, -0.002, -0.0013, 0.000, 0.001, 0.0015, 0.0025],
    [-0.017, 0.000, 0.015, 0.020, 0.010, -0.010, -0.016, -0.015, -0.013, -0.012, -0.010,
     -0.007, -0.006, -0.0045, -0.003, -0.002, 0.000, 0.001, 0.002, 0.003],
    [-0.030, 0.015, 0.027, 0.027, 0.010, -0.008, -0.010, -0.011, -0.010, -0.009, -0.008,
     -0.006, -0.004, -0.002, -0.001, 0.000, 0.001, 0.002, 0.003, 0.004],
    [-0.015, 0.010, 0.030, 0.030, 0.015, -0.005, -0.012, -0.020, -0.016, -0.018, -0.012,
     -0.009, -0.007, -0.004, -0.002, -0.0005, 0.001, 0.0025, 0.0035, 0.0045],
    [-0.012, 0.010, 0.020, 0.020, 0.005, -0.008, -0.010, -0.012, -0.010, -0.010, -0.009,
     -0.007, -0.004, -0.0015, 0.000, 0.001, 0.002, 0.004, 0.005, 0.006],
    [-0.014, 0.010, 0.025, 0.020, 0.000, -0.012, -0.015, -0.014, -0.016, -0.013, -0.011,
     -0.008, -0.004, -0.001, 0.0005, 0.0015, 0.003, 0.005, 0.006, 0.007],
    [-0.013, 0.020, 0.036, 0.036, 0.020, -0.005, -0.012, -0.013, -0.012, -0.012, -0.010,
     -0.007, -0.004, -0.001, 0.001, 0.002, 0.0035, 0.0055, 0.0065, 0.0075],
    [-0.012, 0.025, 0.036, 0.030, 0.010, -0.010, -0.013, -0.012, -0.014, -0.012, -0.010,
     -0.004, -0.002, 0.0005, 0.002, 0.0033, 0.005, 0.0073, 0.008, 0.0088],
]
H_ED = [0.3, 0.312, 0.315, 0.32, 0.33, 0.34, 0.36, 0.38, 0.39, 0.395]
H_DN = [
    [-0.006, -0.006, -0.0058, -0.0055, -0.005, -0.0045, -0.0035, -0.0022, -0.001, 0.001],
    [-0.0075, -0.0075, -0.0072, -0.0068, -0.006, -0.0054, -0.0042, -0.0028, -0.0015, 0.002],
    [-0.007, -0.007, -0.0068, -0.0064, -0.0057, -0.005, -0.0038, -0.0025, -0.0012, 0.0025],
    [-0.009, -0.009, -0.0087, -0.0082, -0.0073, -0.0065, -0.005, -0.0033, -0.0018, 0.003],
    [-0.0095, -0.0095, -0.0092, -0.0087, -0.0078, -0.007, -0.0052, -0.0033, -0.0018, 0.004],
    [-0.010, -0.010, -0.0097, -0.0092, -0.0082, -0.0072, -0.0053, -0.0033, -0.0017, 0.0045],
    [-0.0105, -0.0105, -0.0102, -0.0097, -0.0085, -0.0074, -0.0054, -0.0032, -0.0015, 0.006],
    [-0.011, -0.011, -0.0107, -0.010, -0.0087, -0.0075, -0.0055, -0.0032, -0.0015, 0.007],
    [-0.0112, -0.0112, -0.0108, -0.010, -0.0088, -0.0075, -0.0055, -0.003, -0.0012, 0.0075],
    [-0.0115, -0.0113, -0.011, -0.0098, -0.0085, -0.0069, -0.0046, -0.0029, -0.001, 0.0088],
]
H_COLORS = [LB, OR, GR, YE, BL, GN, DB, BR, DG, OL]

# ---- i : PMo12-mGO
I_EU = [0.3, 0.3008, 0.3015, 0.3022, 0.303, 0.304, 0.305, 0.306, 0.307, 0.308, 0.309, 0.31,
        0.312, 0.315, 0.32, 0.33, 0.34, 0.36, 0.38, 0.39, 0.395]
I_UP = [
    [-0.008, -0.005, -0.005, -0.005, -0.005, -0.005, -0.005, -0.006, -0.007, -0.007, -0.007, -0.007,
     -0.007, -0.0065, -0.006, -0.005, -0.0045, -0.0035, -0.0025, -0.002, -0.0015],
    [-0.020, -0.027, -0.015, 0.000, 0.027, 0.027, 0.000, -0.015, -0.012, -0.011, -0.010, -0.009,
     -0.008, -0.007, -0.0065, -0.0055, -0.0045, -0.003, -0.0015, -0.001, 0.000],
    [-0.010, 0.000, 0.018, 0.018, 0.000, -0.005, -0.006, -0.006, -0.006, -0.006, -0.007, -0.007,
     -0.0075, -0.007, -0.006, -0.005, -0.004, -0.0025, -0.001, -0.0005, 0.0005],
    [-0.005, 0.010, -0.010, -0.027, -0.027, -0.015, -0.008, -0.008, -0.008, -0.008, -0.008, -0.008,
     -0.008, -0.0072, -0.0065, -0.0052, -0.004, -0.0025, -0.0008, 0.000, 0.001],
    [-0.020, -0.010, 0.000, -0.005, 0.008, 0.018, 0.000, -0.015, -0.012, -0.010, -0.011, -0.009,
     -0.0085, -0.007, -0.0055, -0.004, -0.003, -0.0015, 0.000, 0.001, 0.0015],
    [-0.015, 0.000, 0.008, 0.000, -0.008, -0.012, -0.012, -0.010, -0.010, -0.009, -0.009, -0.009,
     -0.0085, -0.0072, -0.006, -0.0045, -0.0033, -0.0015, 0.0005, 0.0015, 0.002],
    [-0.012, 0.008, 0.000, -0.005, -0.015, -0.012, -0.010, -0.012, -0.014, -0.012, -0.010, -0.009,
     -0.0085, -0.0072, -0.0058, -0.0043, -0.003, -0.0012, 0.0008, 0.0018, 0.0025],
    [-0.050, -0.010, 0.000, 0.008, 0.000, -0.015, -0.016, -0.013, -0.014, -0.012, -0.011, -0.009,
     -0.009, -0.0075, -0.006, -0.0045, -0.003, -0.001, 0.001, 0.002, 0.003],
    [-0.050, 0.000, 0.010, 0.005, -0.010, -0.015, -0.018, -0.015, -0.016, -0.015, -0.012, -0.0095,
     -0.009, -0.0075, -0.006, -0.0045, -0.003, -0.001, 0.0012, 0.0022, 0.0032],
    [-0.010, 0.027, 0.010, 0.010, 0.000, -0.012, -0.014, -0.015, -0.013, -0.016, -0.013, -0.0095,
     -0.0092, -0.0078, -0.0058, -0.0038, -0.0018, -0.0002, 0.0018, 0.0028, 0.0038],
]
I_ED = [0.3, 0.312, 0.315, 0.32, 0.33, 0.34, 0.36, 0.38, 0.39, 0.395]
I_DN = [
    [-0.008, -0.008, -0.0078, -0.0075, -0.007, -0.0065, -0.0055, -0.0045, -0.004, -0.0015],
    [-0.009, -0.009, -0.0088, -0.0085, -0.008, -0.0073, -0.006, -0.0045, -0.003, 0.000],
    [-0.009, -0.009, -0.0088, -0.0084, -0.0078, -0.0071, -0.0058, -0.0043, -0.003, 0.0005],
    [-0.0095, -0.0095, -0.0092, -0.0088, -0.0081, -0.0074, -0.006, -0.0044, -0.003, 0.001],
    [-0.0095, -0.0095, -0.0093, -0.0089, -0.0082, -0.0073, -0.0058, -0.004, -0.0025, 0.0015],
    [-0.0098, -0.0097, -0.0094, -0.009, -0.0081, -0.0071, -0.0055, -0.0036, -0.0022, 0.002],
    [-0.0098, -0.0097, -0.0094, -0.0089, -0.008, -0.007, -0.0053, -0.0033, -0.0018, 0.0025],
    [-0.010, -0.0099, -0.0095, -0.0088, -0.0078, -0.0068, -0.005, -0.003, -0.0015, 0.003],
    [-0.010, -0.0099, -0.0095, -0.0087, -0.0076, -0.0066, -0.0047, -0.0026, -0.0012, 0.0032],
    [-0.0101, -0.0098, -0.0093, -0.0082, -0.007, -0.006, -0.0042, -0.0022, -0.0008, 0.0038],
]
I_COLORS = [LB, OR, GR, YE, BL, GN, DB, BR, DG, OL]

# ---- j : PMo12
J_EU = [0.3, 0.3008, 0.3015, 0.3022, 0.303, 0.3038, 0.3045, 0.3055, 0.3065, 0.3075, 0.3085, 0.31,
        0.312, 0.315, 0.32, 0.33, 0.34, 0.36, 0.38, 0.39, 0.395]
J_UP = [
    [-0.005, -0.004, -0.004, -0.004, -0.004, -0.004, -0.004, -0.004, -0.004, -0.004, -0.004, -0.004,
     -0.004, -0.0038, -0.0035, -0.003, -0.0025, -0.0015, -0.0005, 0.000, 0.001],
    [-0.010, 0.000, 0.010, 0.000, -0.010, -0.005, -0.003, -0.004, -0.004, -0.004, -0.004, -0.004,
     -0.0045, -0.0042, -0.0038, -0.003, -0.0022, -0.001, 0.0003, 0.001, 0.002],
    [-0.020, 0.000, -0.040, -0.020, 0.000, -0.005, -0.005, -0.005, -0.005, -0.005, -0.005, -0.005,
     -0.0048, -0.0044, -0.0038, -0.0028, -0.002, -0.0005, 0.001, 0.0018, 0.0025],
    [0.020, 0.025, 0.000, -0.010, -0.015, -0.018, -0.010, -0.005, -0.006, -0.006, -0.005, -0.005,
     -0.005, -0.0045, -0.0038, -0.0027, -0.0018, 0.000, 0.0015, 0.0023, 0.003],
    [-0.020, 0.045, 0.030, 0.000, -0.010, -0.005, -0.005, -0.008, -0.010, -0.006, -0.006, -0.005,
     -0.005, -0.0045, -0.0036, -0.0025, -0.0015, 0.0003, 0.002, 0.0028, 0.0035],
    [-0.010, 0.000, 0.030, 0.020, 0.000, -0.010, -0.012, -0.008, -0.006, -0.006, -0.005, -0.005,
     -0.0052, -0.0046, -0.0034, -0.0022, -0.0012, 0.0007, 0.0025, 0.0033, 0.0038],
    [-0.010, 0.000, 0.020, 0.036, 0.015, -0.005, -0.012, -0.010, -0.012, -0.008, -0.008, -0.006,
     -0.0055, -0.0045, -0.0032, -0.002, -0.001, 0.001, 0.003, 0.0038, 0.0042],
    [-0.020, -0.045, -0.020, 0.000, 0.020, 0.036, 0.020, -0.010, -0.015, -0.010, -0.012, -0.007,
     -0.006, -0.0045, -0.003, -0.0018, -0.0007, 0.0013, 0.0033, 0.004, 0.0045],
    [-0.010, 0.000, 0.020, 0.064, 0.040, 0.000, -0.015, -0.012, -0.015, -0.010, -0.012, -0.007,
     -0.006, -0.0043, -0.0028, -0.0015, -0.0005, 0.0015, 0.0035, 0.0042, 0.0047],
    [-0.050, 0.012, 0.000, 0.010, 0.025, 0.030, 0.010, -0.010, -0.014, -0.010, -0.013, -0.007,
     -0.0055, -0.004, -0.0025, -0.0012, -0.0002, 0.0017, 0.0038, 0.0045, 0.0049],
]
J_ED = [0.3, 0.312, 0.315, 0.32, 0.33, 0.34, 0.36, 0.38, 0.39, 0.395]
J_DN = [
    [-0.0045, -0.0045, -0.0043, -0.004, -0.0035, -0.003, -0.002, -0.001, -0.0003, 0.001],
    [-0.005, -0.005, -0.0048, -0.0045, -0.004, -0.0034, -0.0023, -0.001, -0.0002, 0.002],
    [-0.0055, -0.0055, -0.0053, -0.005, -0.0043, -0.0037, -0.0025, -0.0011, -0.0002, 0.0025],
    [-0.0055, -0.0055, -0.0053, -0.005, -0.0044, -0.0038, -0.0024, -0.0009, 0.000, 0.003],
    [-0.0058, -0.0057, -0.0055, -0.0052, -0.0045, -0.0039, -0.0023, -0.0007, 0.0003, 0.0035],
    [-0.006, -0.0059, -0.0057, -0.0053, -0.0045, -0.0038, -0.0022, -0.0005, 0.0006, 0.0038],
    [-0.006, -0.006, -0.0058, -0.0053, -0.0045, -0.0038, -0.002, -0.0002, 0.0009, 0.0042],
    [-0.0062, -0.0061, -0.0059, -0.0054, -0.0045, -0.0037, -0.0019, 0.000, 0.0012, 0.0045],
    [-0.0062, -0.0061, -0.0059, -0.0053, -0.0044, -0.0036, -0.0018, 0.0003, 0.0015, 0.0047],
    [-0.0063, -0.0062, -0.006, -0.0052, -0.0042, -0.0035, -0.0017, 0.0005, 0.0018, 0.0049],
]
J_COLORS = [LB, OR, GR, YE, BL, GN, DB, BR, DG, OL]

# ------------------------------------------------------------------ layout specs (page pixel positions)
# The page body keeps the browser's default 8 px margin, so the figure is 16 px smaller than the
# 1190 x 1840 window and every page position is shifted by that margin.
PAGE_W, PAGE_H, PAGE_MARGIN = 1190, 1840, 8
W, H = PAGE_W - 2 * PAGE_MARGIN, PAGE_H - 2 * PAGE_MARGIN
FONT = 'Lato, "Open Sans", sans-serif'
ARIAL = '"Liberation Sans", Arial, sans-serif'


def px(x):
    return (x - PAGE_MARGIN) / W


def py(y):
    return 1 - (y - PAGE_MARGIN) / H


PANELS = [
    dict(k='a', groups=[(A_EU, A_UP, A_ED, A_DN, A_COLORS)], box=(99, 585, 42, 322), yr=(-0.1, 0.125),
         yt=(Y_TICKS_01, Y_TEXT_01), ybold=False, letter=(75, 19), ytitle=(43, 194), xtitle=(332, 359),
         label=('PMo<sub>11</sub>', '#C8A034', 163, 82), t10=(545, 228), arrow=(549, 240, 273), t100=(545, 287)),
    dict(k='b', groups=[(B_EU, B_UP, B_ED, B_DN, B_COLORS), (B_EUW, B_UPW, B_EDW, B_DNW, B_COLORSW)],
         box=(687, 1173, 45, 326), yr=(-0.2, 0.252),
         yt=(Y_TICKS_02, Y_TEXT_02), ybold=False, letter=(670, 24), ytitle=(632, 198), xtitle=(931, 366),
         label=('PMo<sub>11</sub>-Cr', '#D9262B', 765, 82), t10=(1133, 247), arrow=(1139, 256, 292), t100=(1132, 305)),
    dict(k='c', groups=[(C_EU, C_UP, C_ED, C_DN, C_COLORS)], box=(98, 584, 408, 691), yr=(-0.103, 0.127),
         yt=(Y_TICKS_01, Y_TEXT_01), ybold=False, letter=(70, 390), ytitle=(36, 560), xtitle=(350, 728),
         label=('GO', '#1DA35A', 132, 441), t10=(538, 598), arrow=(575, 530, 563), t100=(536, 657)),
    dict(k='d', groups=[(D_EU, D_UP, D_ED, D_DN, D_COLORS), (D_EUW, D_UPW, D_EDW, D_DNW, D_COLORSW)],
         box=(678, 1163, 411, 692), yr=(-0.1, 0.125),
         yt=(Y_TICKS_01, Y_TEXT_01), ybold=False, letter=(658, 392), ytitle=(623, 554), xtitle=(896, 732),
         label=('Cr(acac)<sub>3</sub>', '#1616C0', 749, 443), t10=(1117, 605), arrow=(1122, 615, 652), t100=(1117, 665)),
    dict(k='e', groups=[(E_EU, E_UP, E_ED, E_DN, E_COLORS)], box=(93, 580, 754, 1045), yr=(-0.0233, 0.02),
         yt=(Y_TICKS_002, Y_TEXT_002), ybold=True, letter=(69, 720), ytitle=(23, 899), xtitle=(341, 1086),
         label=('mGO', '#E645C8', 157, 777), t10=(523, 941), arrow=(523, 957, 988), t100=(519, 1002)),
    dict(k='f', groups=[(F_EU, F_UP, F_ED, F_DN, F_COLORS)], box=(678, 1163, 761, 1052), yr=(-0.05, 0.05),
         yt=(Y_TICKS_005, Y_TEXT_005), ybold=True, letter=(653, 731), ytitle=(612, 906), xtitle=(925, 1090),
         label=('PMo <sub>11</sub>-mGO', '#EC7C30', 784, 787), t10=(1088, 934), arrow=(1090, 947, 982), t100=(1088, 995)),
    dict(k='g', groups=[(G_EU, G_UP, G_ED, G_DN, G_COLORS)], box=(99, 585, 1122, 1409), yr=(-0.0203, 0.0203),
         yt=(Y_TICKS_002, Y_TEXT_002), ybold=True, letter=(75, 1076), ytitle=(29, 1266), xtitle=(345, 1459),
         label=('Cr- mGO', '#9A4A17', 168, 1158), t10=(531, 1320), arrow=(530, 1335, 1368), t100=(527, 1382)),
    dict(k='h', groups=[(H_EU, H_UP, H_ED, H_DN, H_COLORS)], box=(678, 1164, 1122, 1414), yr=(-0.05, 0.05),
         yt=(Y_TICKS_005, Y_TEXT_005), ybold=True, letter=(656, 1093), ytitle=(619, 1277), xtitle=(924, 1462),
         label=('PMo<sub>11-</sub>Cr-GO', '#5B9B3A', 789, 1161), t10=(1096, 1310), arrow=(1097, 1325, 1358), t100=(1094, 1372)),
    dict(k='i', groups=[(I_EU, I_UP, I_ED, I_DN, I_COLORS)], box=(95, 583, 1486, 1775), yr=(-0.05, 0.05),
         yt=(Y_TICKS_005, Y_TEXT_005), ybold=True, letter=(74, 1450), ytitle=(27, 1632), xtitle=(345, 1824),
         label=('PMo <sub>12</sub>-mGO', '#3CD63C', 201, 1513), t10=(517, 1670), arrow=(518, 1683, 1717), t100=(515, 1728)),
    dict(k='j', groups=[(J_EU, J_UP, J_ED, J_DN, J_COLORS)], box=(680, 1166, 1486, 1775), yr=(-0.05, 0.09),
         yt=(Y_TICKS_009, Y_TEXT_009), ybold=True, letter=(658, 1458), ytitle=(619, 1631), xtitle=(931, 1824),
         label=('PMo<sub>12</sub>', '#29A3DA', 758, 1523), t10=(1117, 1695), arrow=(1121, 1708, 1742), t100=(1115, 1753)),
]

# ------------------------------------------------------------------ build figure
fig = go.Figure()
layout = dict(width=W, height=H, margin=dict(l=0, r=0, t=0, b=0), paper_bgcolor='white',
              plot_bgcolor='white', showlegend=False, font=dict(family=FONT, color='#1a1a1a'))
annotations = []
shapes = []

for n, p in enumerate(PANELS, start=1):
    xa = 'x' if n == 1 else 'x%d' % n
    ya = 'y' if n == 1 else 'y%d' % n
    for EU, UP, ED, DN, COLS in p['groups']:
        for row in UP:
            assert len(row) == len(EU), (p['k'], 'up', len(row), len(EU))
        for row in DN:
            assert len(row) == len(ED), (p['k'], 'dn', len(row), len(ED))
        for up, dn, col in zip(UP, DN, COLS):
            xs = list(EU) + list(ED[::-1]) + [EU[0]]
            ys = list(up) + list(dn[::-1]) + [up[0]]
            fig.add_trace(go.Scatter(x=xs, y=ys, mode='lines', xaxis=xa, yaxis=ya,
                                     line=dict(color=col, width=2.6), hoverinfo='skip', showlegend=False))
    l, r, t, b = p['box']
    axis_common = dict(showline=True, mirror=True, linecolor='black', linewidth=2.5, showgrid=False,
                       zeroline=False, ticks='outside', ticklen=5, tickwidth=2, tickcolor='#8a8a8a')
    layout['xaxis' if n == 1 else 'xaxis%d' % n] = dict(
        axis_common, domain=[px(l), px(r)], range=[0.3, 0.4], anchor=ya, tickmode='array',
        tickvals=X_TICKS, ticktext=X_TICK_TEXT, ticklabelstandoff=-7,
        tickfont=dict(family=FONT, size=15.5, color='#222'))
    tv, tt = p['yt']
    layout['yaxis' if n == 1 else 'yaxis%d' % n] = dict(
        axis_common, domain=[py(b), py(t)], range=list(p['yr']), anchor=xa, tickmode='array',
        tickvals=tv, ticktext=tt,
        tickfont=dict(family=FONT, size=14 if p['ybold'] else 15.5, color='#222',
                      weight='bold' if p['ybold'] else 'normal'))

    lx, ly = p['letter']
    annotations.append(dict(text=p['k'], x=px(lx), y=py(ly), xref='paper', yref='paper', showarrow=False,
                            xanchor='center', yanchor='middle',
                            font=dict(family=FONT, size=30, color='black', weight='bold')))
    tx, ty = p['ytitle']
    annotations.append(dict(text='Current Density (mA.cm<sup>-2</sup>)', x=px(tx), y=py(ty), xref='paper',
                            yref='paper', showarrow=False, textangle=-90, xanchor='center', yanchor='middle',
                            font=dict(family=FONT, size=25.5, color='#1a1a1a', weight='bold')))
    tx, ty = p['xtitle']
    annotations.append(dict(text='Potential/V (vs RHE)', x=px(tx), y=py(ty), xref='paper', yref='paper',
                            showarrow=False, xanchor='center', yanchor='middle',
                            font=dict(family=FONT, size=25.5, color='#1a1a1a', weight='bold')))
    txt, col, sx, sy = p['label']
    annotations.append(dict(text=txt, x=px(sx), y=py(sy), xref='paper', yref='paper', showarrow=False,
                            xanchor='center', yanchor='middle',
                            font=dict(family=FONT, size=22.5, color=col, weight='bold')))
    sx, sy = p['t10']
    annotations.append(dict(text='10 mV s<sup>-1</sup>', x=px(sx), y=py(sy), xref='paper', yref='paper',
                            showarrow=False, xanchor='center', yanchor='middle',
                            font=dict(family=ARIAL, size=13, color='black', weight='bold')))
    sx, sy = p['t100']
    annotations.append(dict(text='100 mV s<sup>-1</sup>', x=px(sx), y=py(sy), xref='paper', yref='paper',
                            showarrow=False, xanchor='center', yanchor='middle',
                            font=dict(family=ARIAL, size=13, color='black', weight='bold')))
    axx, ay0, ay1 = p['arrow']
    shapes.append(dict(type='line', xref='paper', yref='paper', x0=px(axx), x1=px(axx), y0=py(ay0),
                       y1=py(ay1 - 9), line=dict(color='black', width=2, dash='4px,3px')))
    annotations.append(dict(text='', x=px(axx), y=py(ay1), xref='paper', yref='paper', showarrow=True,
                            ax=0, ay=-11, arrowhead=2, arrowsize=1.3, arrowwidth=2, arrowcolor='black'))

layout['annotations'] = annotations
layout['shapes'] = shapes
fig.update_layout(**layout)
fig.write_html('out.html', config={'displayModeBar': False})
